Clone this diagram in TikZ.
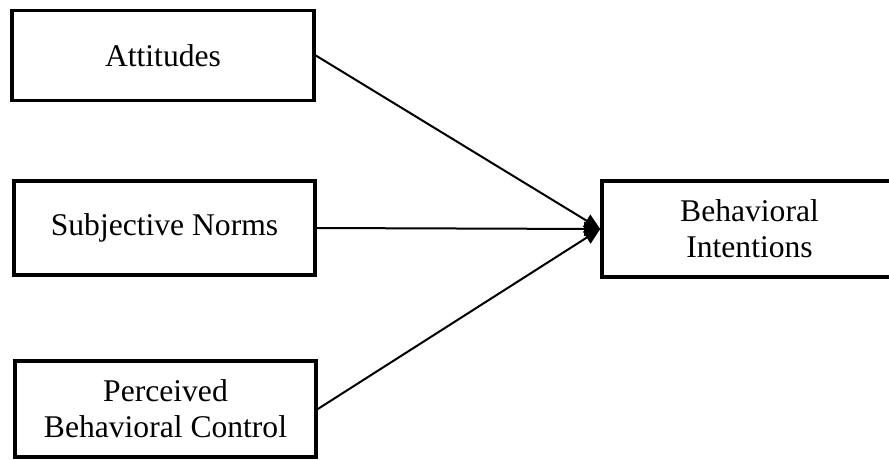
\documentclass[tikz,border=0pt]{standalone}
\usepackage{fontspec}
\setmainfont{Liberation Serif}
\usetikzlibrary{arrows.meta}
\begin{document}
\begin{tikzpicture}[x=1pt,y=-1pt,
  box/.style={draw=black, line width=3.6pt, rectangle, inner sep=0pt, align=center,
    font=\fontsize{31.6}{36}\selectfont},
  conn/.style={draw=black, line width=2pt, -{Triangle[length=16pt,width=14pt]}}]
\useasboundingbox (0,0) rectangle (889,459);
\clip (0,0) rectangle (889,459);
\node[box, minimum width=302pt, minimum height=90pt] (att) at (163,55.5) {Attitudes};
\node[box, minimum width=301pt, minimum height=94pt] (sn) at (164.5,228) {Subjective Norms};
\node[box, minimum width=301pt, minimum height=96pt] (pbc) at (165.5,409) {Perceived\\Behavioral Control};
\node[box, minimum width=295pt, minimum height=96pt] (bi) at (749.5,229) {Behavioral\\Intentions};
\draw[conn] (att.east) -- (bi.west);
\draw[conn] (sn.east) -- (bi.west);
\draw[conn] (pbc.east) -- (bi.west);
\end{tikzpicture}
\end{document}
